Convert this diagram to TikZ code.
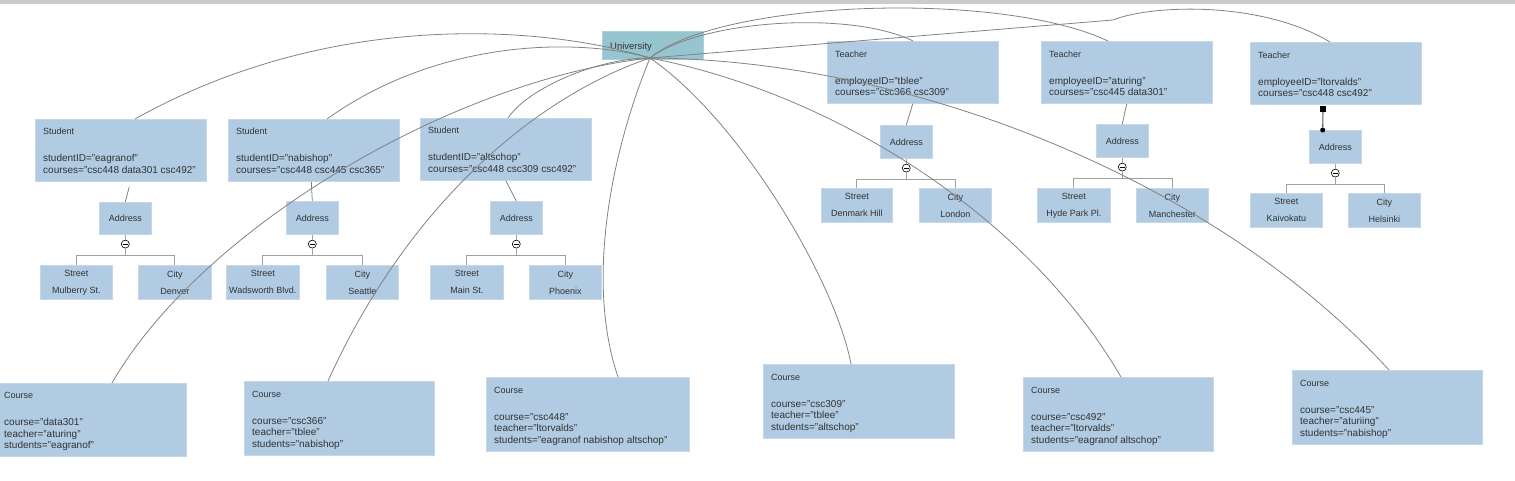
\documentclass[tikz,border=0pt]{standalone}
\usepackage{fontspec}
\setmainfont{Liberation Sans}
\usetikzlibrary{calc}
\definecolor{boxc}{HTML}{B0CBE2}
\definecolor{boxe}{HTML}{C4D8EA}
\definecolor{unic}{HTML}{96C5CF}
\definecolor{edgec}{HTML}{828282}
\definecolor{treec}{HTML}{A0A0A0}
\definecolor{txtc}{HTML}{333333}
\definecolor{barc}{HTML}{CCCCCC}
\newcommand\entt[1]{{\fontsize{9}{11.5}\selectfont #1}}
\begin{document}
\begin{tikzpicture}[x=1pt,y=-1pt,
  entity/.style={rectangle, fill=boxc, draw=boxe, line width=0.6pt, anchor=north west, inner sep=0pt},
  unibox/.style={rectangle, fill=unic, draw=unic!80!white, line width=0.6pt, anchor=north west, inner sep=0pt},
  etext/.style={anchor=west, align=left, inner sep=0pt, text=txtc, font=\fontsize{10}{11.5}\selectfont},
  leaf/.style={rectangle, fill=boxc, draw=boxe, line width=0.6pt, anchor=north west, inner sep=0pt, align=center, text=txtc, font=\fontsize{9}{11}\selectfont},
  addr/.style={rectangle, fill=boxc, draw=boxe, line width=0.6pt, anchor=north west, inner sep=0pt, minimum width=52pt, text=txtc, font=\fontsize{9}{11}\selectfont},
  mcirc/.style={circle, draw=black, fill=white, line width=0.6pt, minimum size=8pt, inner sep=0pt,
    path picture={\draw[line width=0.6pt] ([xshift=-2.5pt]path picture bounding box.center) -- ([xshift=2.5pt]path picture bounding box.center);}},
  curve/.style={draw=edgec, line width=0.8pt},
  tree/.style={draw=treec, line width=1.2pt},
  link/.style={draw=edgec, line width=0.8pt}
]
\useasboundingbox (0,0) rectangle (1515,480);
\fill[barc] (0,0) rectangle (1515,3.5);

% University
\node[unibox, minimum width=101pt, minimum height=28pt] (uni) at (602,31) {};
\node[etext, font=\fontsize{9.5}{11}\selectfont] (unit) at ([xshift=8pt,yshift=-2pt]uni.west) {University};
\coordinate (hub) at (650,58);

% Students
\node[entity, minimum width=171pt, minimum height=62pt] (s1) at (35,119) {};
\node[etext] (s1t) at ([xshift=8pt,yshift=-0.5pt]s1.west) {\entt{Student}\\[15.5pt]studentID="eagranof"\\courses="csc448 data301 csc492"};
\node[entity, minimum width=171pt, minimum height=62pt] (s2) at (228,119) {};
\node[etext] (s2t) at ([xshift=8pt,yshift=-0.5pt]s2.west) {\entt{Student}\\[15.5pt]studentID="nabishop"\\courses="csc448 csc445 csc365"};
\node[entity, minimum width=171pt, minimum height=62pt] (s3) at (420,118) {};
\node[etext] (s3t) at ([xshift=8pt,yshift=-0.5pt]s3.west) {\entt{Student}\\[15.5pt]studentID="altschop"\\courses="csc448 csc309 csc492"};

% Teachers
\node[entity, minimum width=171pt, minimum height=62pt] (t1) at (827,41) {};
\node[etext] (t1t) at ([xshift=8pt,yshift=-1pt]t1.west) {\entt{Teacher}\\[15.5pt]employeeID="tblee"\\courses="csc366 csc309"};
\node[entity, minimum width=171pt, minimum height=62pt] (t2) at (1041,41) {};
\node[etext] (t2t) at ([xshift=8pt,yshift=-1pt]t2.west) {\entt{Teacher}\\[15.5pt]employeeID="aturing"\\courses="csc445 data301"};
\node[entity, minimum width=171pt, minimum height=62pt] (t3) at (1250,42) {};
\node[etext] (t3t) at ([xshift=8pt,yshift=-1pt]t3.west) {\entt{Teacher}\\[15.5pt]employeeID="ltorvalds"\\courses="csc448 csc492"};

% Courses
\node[entity, minimum width=190pt, minimum height=73pt] (c1) at (-4,383) {};
\node[etext] (c1t) at ([xshift=8pt,yshift=-2pt]c1.west) {\entt{Course}\\[15.5pt]course="data301"\\teacher="aturing"\\students="eagranof"};
\node[entity, minimum width=190pt, minimum height=74pt] (c2) at (244,381) {};
\node[etext] (c2t) at ([xshift=8pt,yshift=-2pt]c2.west) {\entt{Course}\\[15.5pt]course="csc366"\\teacher="tblee"\\students="nabishop"};
\node[entity, minimum width=203pt, minimum height=74pt] (c3) at (486,377) {};
\node[etext] (c3t) at ([xshift=8pt,yshift=-2pt]c3.west) {\entt{Course}\\[15.5pt]course="csc448"\\teacher="ltorvalds"\\students="eagranof nabishop altschop"};
\node[entity, minimum width=191pt, minimum height=74pt] (c4) at (763,364) {};
\node[etext] (c4t) at ([xshift=8pt,yshift=-2pt]c4.west) {\entt{Course}\\[15.5pt]course="csc309"\\teacher="tblee"\\students="altschop"};
\node[entity, minimum width=190pt, minimum height=74pt] (c5) at (1023,377) {};
\node[etext] (c5t) at ([xshift=8pt,yshift=-2pt]c5.west) {\entt{Course}\\[15.5pt]course="csc492"\\teacher="ltorvalds"\\students="eagranof altschop"};
\node[entity, minimum width=190pt, minimum height=74pt] (c6) at (1292,370) {};
\node[etext] (c6t) at ([xshift=8pt,yshift=-2pt]c6.west) {\entt{Course}\\[15.5pt]course="csc445"\\teacher="aturiing"\\students="nabishop"};

% Addresses
\node[addr, minimum height=32pt] (a1) at (99,202) {Address};
\node[addr, minimum height=33pt] (a2) at (286,201) {Address};
\node[addr, minimum height=33pt] (a3) at (490,201) {Address};
\node[addr, minimum height=33pt] (a4) at (880,125) {Address};
\node[addr, minimum height=33pt] (a5) at (1096,124) {Address};
\node[addr, minimum height=33pt] (a6) at (1309,130) {Address};

% Leaves
\node[leaf, minimum width=72pt, minimum height=34pt] (st1) at (40,265) {Street\\[6pt]Mulberry St.};
\node[leaf, minimum width=73pt, minimum height=34pt] (ct1) at (138,265) {City\\[6pt]Denver};
\node[leaf, minimum width=73pt, minimum height=34pt] (st2) at (226,265) {Street\\[6pt]Wadsworth Blvd.};
\node[leaf, minimum width=72pt, minimum height=34pt] (ct2) at (326,265) {City\\[6pt]Seattle};
\node[leaf, minimum width=73pt, minimum height=34pt] (st3) at (430,265) {Street\\[6pt]Main St.};
\node[leaf, minimum width=72pt, minimum height=34pt] (ct3) at (529,265) {City\\[6pt]Phoenix};
\node[leaf, minimum width=71pt, minimum height=34pt] (st4) at (821,188) {Street\\[6pt]Denmark Hill};
\node[leaf, minimum width=72pt, minimum height=34pt] (ct4) at (919,188) {City\\[6pt]London};
\node[leaf, minimum width=73pt, minimum height=34pt] (st5) at (1037,188) {Street\\[6pt]Hyde Park Pl.};
\node[leaf, minimum width=72pt, minimum height=34pt] (ct5) at (1136,188) {City\\[6pt]Manchester};
\node[leaf, minimum width=72pt, minimum height=34pt] (st6) at (1250,193) {Street\\[6pt]Kaivokatu};
\node[leaf, minimum width=72pt, minimum height=34pt] (ct6) at (1348,193) {City\\[6pt]Helsinki};

% Address trees
\foreach \i in {1,...,6}{
  \node[mcirc] (m\i) at ($(a\i.south)+(0,9.5)$) {};
  \draw[tree] (a\i.south) -- (m\i.north);
  \draw[tree] (m\i.south) -- ++(0,7) coordinate (b\i);
  \draw[tree] (st\i.north) |- (b\i) -| (ct\i.north);
}

% entity -> address links
\draw[link] ($(s1.south)+(8.5,5)$) -- (a1.north);
\draw[link] ($(s2.south)+(-2.5,0)$) -- (a2.north);
\draw[link] (s3.south) -- (a3.north);
\draw[link] (t1.south) -- (a4.north);
\draw[link] (t2.south) -- (a5.north);
\node[rectangle, fill=black, minimum size=6pt, inner sep=0pt] (t3sq) at (1323,109) {};
\node[circle, fill=black, minimum size=5pt, inner sep=0pt] (t3dot) at (1322.7,130) {};
\draw[draw=black!65, line width=1.1pt] (t3sq) -- (t3dot);

% University curves
\draw[curve] (hub) .. controls (550,27) and (335,7) .. ($(s1.north west)+(100,0)$);
\draw[curve] (hub) .. controls (580,38) and (440,38) .. ($(s2.north west)+(99,0)$);
\draw[curve] (hub) .. controls (598,58) and (528,88) .. ($(s3.north west)+(88,0)$);
\draw[curve] (hub) .. controls (450,80) and (200,230) .. ($(c1.north west)+(116,0)$);
\draw[curve] (hub) .. controls (540,95) and (410,200) .. ($(c2.north west)+(84,0)$);
\draw[curve] (hub) .. controls (612,150) and (585,280) .. ($(c3.north west)+(132,0)$);
\draw[curve] (hub) .. controls (740,120) and (835,280) .. ($(c4.north west)+(88,0)$);
\draw[curve] (hub) .. controls (840,95) and (1030,220) .. ($(c5.north west)+(98,0)$);
\draw[curve] (hub) .. controls (920,60) and (1220,185) .. ($(c6.north west)+(97,0)$);
\draw[curve] (hub) .. controls (700,20) and (850,10) .. ($(t1.north west)+(86,0)$);
\draw[curve] (hub) .. controls (720,0) and (1000,-10) .. ($(t2.north west)+(67,0)$);
\draw[curve] (hub) -- (1113,20) .. controls (1150,5) and (1260,0) .. ($(t3.north west)+(80,0)$);
\end{tikzpicture}
\end{document}
